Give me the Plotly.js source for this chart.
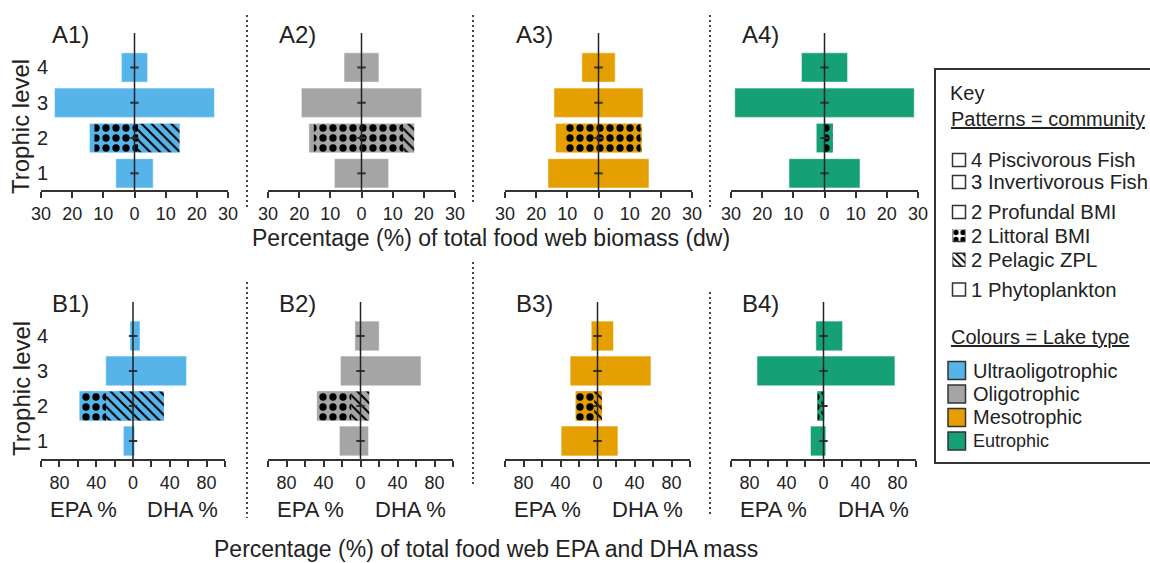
<!DOCTYPE html>
<html><head><meta charset="utf-8">
<script src="https://cdn.plot.ly/plotly-3.0.1.min.js"></script>
<style>html,body{margin:0;padding:0;background:#fff}#chart{width:1150px;height:563px}</style>
</head><body><div id="chart"></div>
<script>
// ---------------- data ----------------
const levels = [1, 2, 3, 4];
const levelLabels = ['1', '2', '3', '4'];
const lakeTypes = ['Ultraoligotrophic', 'Oligotrophic', 'Mesotrophic', 'Eutrophic'];
const lakeColors = ['#56B4E9', '#A5A5A5', '#E69F00', '#16A075'];
const panelLettersA = ['A1)', 'A2)', 'A3)', 'A4)'];
const panelLettersB = ['B1)', 'B2)', 'B3)', 'B4)'];
const communities = ['4 Piscivorous Fish', '3 Invertivorous Fish', '2 Profundal BMI', '2 Littoral BMI', '2 Pelagic ZPL', '1 Phytoplankton'];

// A) % of total food web biomass (dw), trophic level 1..4 (drawn symmetric about 0)
const biomassUltra = [12.0, 28.9, 51.3, 8.4];
const biomassOligo = [17.4, 33.8, 38.6, 11.2];
const biomassMeso  = [32.4, 27.6, 28.6, 10.7];
const biomassEu    = [22.8, 5.3, 57.6, 14.8];
// level-2 biomass split: [Profundal BMI, Littoral BMI, Pelagic ZPL]
const biomassL2Ultra = [1.6, 14.0, 13.3];
const biomassL2Oligo = [1.6, 28.7, 3.5];
const biomassL2Meso  = [2.8, 24.5, 0.3];
const biomassL2Eu    = [2.8, 2.4, 0.1];

// B) % of total food web EPA (left) and DHA (right) mass, trophic level 1..4
const epaUltra = [10.5, 58.5, 29.6, 3.3];
const dhaUltra = [1.8, 33.6, 58.2, 7.6];
const epaOligo = [22.8, 47.3, 21.7, 6.1];
const dhaOligo = [8.7, 9.4, 65.4, 20.2];
const epaMeso  = [39.3, 23.8, 29.6, 6.8];
const dhaMeso  = [22.1, 4.7, 57.8, 17.3];
const epaEu    = [14.1, 6.9, 71.9, 8.3];
const dhaEu    = [2.5, 0.7, 77.2, 20.6];
// level-2 EPA+DHA split: [Profundal BMI, Littoral BMI, Pelagic ZPL]
const fattyL2Ultra = [2.9, 26.3, 62.9];
const fattyL2Oligo = [1.0, 36.5, 19.2];
const fattyL2Meso  = [0.3, 20.0, 8.2];
const fattyL2Eu    = [0.5, 4.0, 3.1];

// tick labels
const tickValsA = [-30, -20, -10, 0, 10, 20, 30];
const tickTextA = ['30', '20', '10', '0', '10', '20', '30'];
const tickValsB = [-100, -80, -60, -40, -20, 0, 20, 40, 60, 80, 100];
const tickTextB = ['', '80', '', '40', '', '0', '', '40', '', '80', ''];

// ---------------- layout helpers ----------------
const W = 1150, H = 563;
const FONT = 'Liberation Sans, Arial, Helvetica, sans-serif';
const TXT = '#222';
const px = v => v / W;
const py = v => 1 - v / H;

const colsA = [[41, 228], [268, 455], [505, 692], [731, 918]];
const colsB = [[41, 225], [268, 453], [505, 690], [731, 916]];
const rowA = [190, 33];   // bottom, top (px)
const rowB = [459, 302];

const traces = [];
const shapes = [];
const annotations = [];
const layout = {
  width: W, height: H,
  margin: {l: 0, r: 0, t: 0, b: 0},
  paper_bgcolor: '#fff', plot_bgcolor: 'rgba(0,0,0,0)',
  barmode: 'overlay', showlegend: false,
  font: {family: FONT, color: TXT},
  shapes, annotations
};

function addPanel(k, color, left, right, l2, barW) {
  const xa = k === 1 ? 'x' : 'x' + k;
  const ya = k === 1 ? 'y' : 'y' + k;
  const line = {color: 'rgba(255,255,255,0.5)', width: 1};
  const noLine = {width: 0};
  const pY = [], pX = [], pB = [];
  levels.forEach((lv, i) => {
    if (lv === 2) return;
    pY.push(lv); pB.push(-left[i]); pX.push(left[i] + right[i]);
  });
  const s = -left[1];
  // full level-2 background (plain colour), then the patterned communities on top
  pY.push(2); pB.push(s); pX.push(left[1] + right[1]);
  traces.push({type: 'bar', orientation: 'h', y: pY, x: pX, base: pB, width: barW,
    marker: {color, line}, xaxis: xa, yaxis: ya, hoverinfo: 'skip'});
  traces.push({type: 'bar', orientation: 'h', y: [2], x: [l2[1]], base: [s + l2[0]], width: barW - 0.02,
    marker: {color, line: noLine, pattern: {shape: '.', fgcolor: '#000', bgcolor: color, size: 10, solidity: 0.42}},
    xaxis: xa, yaxis: ya, hoverinfo: 'skip'});
  traces.push({type: 'bar', orientation: 'h', y: [2], x: [l2[2]], base: [s + l2[0] + l2[1]], width: barW - 0.02,
    marker: {color, line: noLine, pattern: {shape: '\\', fgcolor: '#000', bgcolor: color, size: 7, solidity: 0.28}},
    xaxis: xa, yaxis: ya, hoverinfo: 'skip'});
  traces.push({type: 'scatter', mode: 'markers', x: levels.map(() => 0), y: levels,
    marker: {symbol: 'line-ew', size: 6, line: {color: '#333', width: 2}},
    xaxis: xa, yaxis: ya, hoverinfo: 'skip'});
  shapes.push({type: 'line', xref: xa, yref: ya + ' domain', x0: 0, x1: 0, y0: 0, y1: 1,
    line: {color: '#222', width: 1.5}});
}

function addAxes(k, col, row, range, yr, tv, tt) {
  const xk = k === 1 ? 'xaxis' : 'xaxis' + k;
  const yk = k === 1 ? 'yaxis' : 'yaxis' + k;
  const yaName = k === 1 ? 'y' : 'y' + k;
  const xaName = k === 1 ? 'x' : 'x' + k;
  layout[xk] = {domain: [px(col[0]), px(col[1])], anchor: yaName, range,
    tickvals: tv, ticktext: tt, showline: true, linecolor: '#333', linewidth: 2,
    ticks: 'outside', ticklen: 6, tickwidth: 2, tickcolor: '#333',
    tickfont: {size: 18, color: TXT, family: FONT}, showgrid: false, zeroline: false, fixedrange: true};
  const first = (k === 1 || k === 5);
  layout[yk] = {domain: [py(row[0]), py(row[1])], range: yr,
    anchor: first ? 'free' : xaName, position: first ? px(48) : undefined,
    showgrid: false, zeroline: false, showline: false, ticks: '',
    tickvals: levels, ticktext: levelLabels, showticklabels: first,
    tickfont: {size: 20, color: TXT, family: FONT}, fixedrange: true};
}

const biomass = [biomassUltra, biomassOligo, biomassMeso, biomassEu];
const biomassL2 = [biomassL2Ultra, biomassL2Oligo, biomassL2Meso, biomassL2Eu];
const epa = [epaUltra, epaOligo, epaMeso, epaEu];
const dha = [dhaUltra, dhaOligo, dhaMeso, dhaEu];
const fattyL2 = [fattyL2Ultra, fattyL2Oligo, fattyL2Meso, fattyL2Eu];

for (let i = 0; i < 4; i++) {
  const k = i + 1;
  const half = biomass[i].map(v => v / 2);
  addPanel(k, lakeColors[i], half, half, biomassL2[i], 0.83);
  addAxes(k, colsA[i], rowA, [-30, 30], [0.527, 4.977], tickValsA, tickTextA);
  annotations.push({text: panelLettersA[i], xref: 'paper', yref: 'paper', x: px(colsA[i][0] + 9), y: py(34),
    xanchor: 'left', yanchor: 'middle', showarrow: false, font: {size: 24, color: TXT}});

  const kb = i + 5;
  addPanel(kb, lakeColors[i], epa[i], dha[i], fattyL2[i], 0.85);
  addAxes(kb, colsB[i], rowB, [-100, 100], [0.486, 4.97], tickValsB, tickTextB);
  annotations.push({text: panelLettersB[i], xref: 'paper', yref: 'paper', x: px(colsB[i][0] + 9), y: py(303),
    xanchor: 'left', yanchor: 'middle', showarrow: false, font: {size: 24, color: TXT}});
  annotations.push({text: 'EPA %', xref: 'x' + kb, yref: 'paper', x: -54, y: py(509),
    xanchor: 'center', yanchor: 'middle', showarrow: false, font: {size: 22, color: TXT}});
  annotations.push({text: 'DHA %', xref: 'x' + kb, yref: 'paper', x: 54, y: py(509),
    xanchor: 'center', yanchor: 'middle', showarrow: false, font: {size: 22, color: TXT}});
}

// axis titles
annotations.push({text: 'Trophic level', xref: 'paper', yref: 'paper', x: px(21), y: py(127), textangle: -90,
  xanchor: 'center', yanchor: 'middle', showarrow: false, font: {size: 24, color: TXT}});
annotations.push({text: 'Trophic level', xref: 'paper', yref: 'paper', x: px(21), y: py(389), textangle: -90,
  xanchor: 'center', yanchor: 'middle', showarrow: false, font: {size: 24, color: TXT}});
annotations.push({text: 'Percentage (%) of total food web biomass (dw)', xref: 'paper', yref: 'paper',
  x: px(490.5), y: py(238.5), xanchor: 'center', yanchor: 'middle', showarrow: false, font: {size: 23, color: TXT}});
annotations.push({text: 'Percentage (%) of total food web EPA and DHA mass', xref: 'paper', yref: 'paper',
  x: px(485.5), y: py(549), xanchor: 'center', yanchor: 'middle', showarrow: false, font: {size: 23, color: TXT}});

// dotted separators
const dotted = {color: '#444', width: 2, dash: '2px,3px'};
[[247, 15, 207], [473, 15, 205], [710, 15, 210], [247, 282, 518], [473, 262, 485], [710, 292, 516]].forEach(s => {
  shapes.push({type: 'line', xref: 'paper', yref: 'paper', x0: px(s[0]), x1: px(s[0]), y0: py(s[1]), y1: py(s[2]), line: dotted});
});

// ---------------- key ----------------
shapes.push({type: 'rect', xref: 'paper', yref: 'paper', x0: px(935), x1: px(1165), y0: py(463), y1: py(69),
  line: {color: '#333', width: 2}, fillcolor: 'rgba(0,0,0,0)'});
const keyText = (t, x, y, size) => annotations.push({text: t, xref: 'paper', yref: 'paper', x: px(x), y: py(y),
  xanchor: 'left', yanchor: 'middle', showarrow: false, font: {size: size || 20, color: TXT}});
keyText('Key', 948.5, 93);
keyText('<u>Patterns = community</u>', 948.5, 119);
const commY = [160, 182, 212, 235.5, 259.5, 289.5];
communities.forEach((c, i) => {
  keyText(c, 968.5, commY[i], 20.3);
  if (i !== 3 && i !== 4) {
    shapes.push({type: 'rect', xref: 'paper', yref: 'paper', x0: px(952.5), x1: px(965.5),
      y0: py(commY[i] + 6.5), y1: py(commY[i] - 6.5), line: {color: '#333', width: 1.5}, fillcolor: '#fff'});
  }
});
// patterned swatches via a tiny subplot
layout.xaxis9 = {domain: [px(952.5), px(965.5)], range: [0, 1], visible: false, fixedrange: true, anchor: 'y9'};
layout.yaxis9 = {domain: [py(267), py(229)], type: 'category', categoryorder: 'array',
  categoryarray: [communities[4], communities[3]], range: [-0.296, 1.243], visible: false, fixedrange: true, anchor: 'x9'};
traces.push({type: 'bar', orientation: 'h', y: [communities[3]], x: [1], base: [0], width: 0.53, xaxis: 'x9', yaxis: 'y9',
  marker: {color: '#fff', line: {color: '#333', width: 1.5}, pattern: {shape: '.', fgcolor: '#000', bgcolor: '#fff', size: 7, solidity: 0.45}}, hoverinfo: 'skip'});
traces.push({type: 'bar', orientation: 'h', y: [communities[4]], x: [1], base: [0], width: 0.53, xaxis: 'x9', yaxis: 'y9',
  marker: {color: '#fff', line: {color: '#333', width: 1.5}, pattern: {shape: '\\', fgcolor: '#000', bgcolor: '#fff', size: 5, solidity: 0.35}}, hoverinfo: 'skip'});

keyText('<u>Colours = Lake type</u>', 948.5, 337);
const lakeY = [370.5, 394, 417.5, 441];
lakeTypes.forEach((t, i) => {
  keyText(t, 970.5, lakeY[i], i === 3 ? 18 : 20);
  shapes.push({type: 'rect', xref: 'paper', yref: 'paper', x0: px(948), x1: px(965.5),
    y0: py(lakeY[i] + 9), y1: py(lakeY[i] - 9), line: {color: '#333', width: 1.5}, fillcolor: lakeColors[i]});
});

Plotly.newPlot('chart', traces, layout, {displayModeBar: false, staticPlot: true});
</script>
</body></html>
